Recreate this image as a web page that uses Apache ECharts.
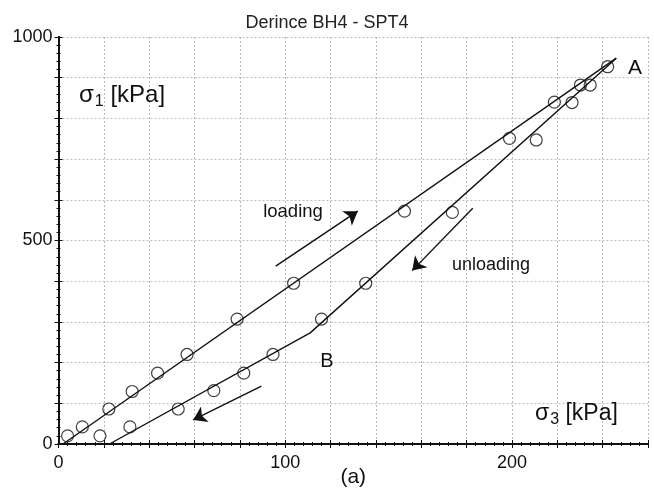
<!DOCTYPE html>
<html><head><meta charset="utf-8">
<script src="https://cdn.jsdelivr.net/npm/echarts@6/dist/echarts.min.js"></script>
<style>html,body{margin:0;padding:0;background:#fff}#c{width:654px;height:488px}</style>
</head><body><div id="c"></div><script>
// ---- data ----
const titleText = 'Derince BH4 - SPT4';
const loadingPts = [[4,20],[10.5,42],[22.2,86],[32.5,129],[43.7,174],[56.7,220],[78.8,307],[103.7,395],[152.6,572],[198.9,751],[218.7,840],[230.2,882],[242.2,927]];
const unloadingPts = [[18.3,20],[31.5,42],[52.8,86],[68.5,131],[81.7,174],[94.6,220],[116,307],[135.5,395],[173.7,569],[210.7,747],[226.5,839],[234.5,882]];
const loadingFit = [[2,0],[246,948]];
const unloadingFit = [[246,948],[111,273],[22.5,0]];
const arrowLines = [[[95.8,437],[132,572]], [[182.7,579],[156,426]], [[89.5,142],[59.4,59]]];
const xTickLabels = [0,100,200];
const yTickLabels = [0,500,1000];

const FONT = '"Liberation Sans", Arial, sans-serif';
const chart = echarts.init(document.getElementById('c'), null, {renderer:'canvas'});

function frameAxis(){
  return {
    axisLine:{show:true, lineStyle:{color:'#111', width:2}},
    axisTick:{show:true, inside:true, length:4, lineStyle:{color:'#111', width:1}},
    minorTick:{show:true, splitNumber:5, length:2, lineStyle:{color:'#111', width:1}},
    splitLine:{show:false},
    axisLabel:{show:false}
  };
}
const gridLine = {show:true, lineStyle:{color:'#bbb', width:1, type:[2,2]}};

const option = {
  animation:false,
  backgroundColor:'#fff',
  title:{text:titleText, left:'center', top:9,
    textStyle:{fontFamily:FONT, fontSize:18, fontWeight:'normal', color:'#222'}},
  grid:{left:58.5, right:6, top:37, bottom:44, containLabel:false, outerBoundsMode:'none'},
  xAxis:[
    Object.assign({type:'value', min:0, max:260, interval:20, position:'bottom',
      name:'(a)', nameLocation:'middle', nameGap:23, nameMoveOverlap:false,
      nameTextStyle:{fontFamily:FONT, fontSize:21, color:'#111'}},
      frameAxis(),
      {splitLine:gridLine,
       axisLabel:{show:true, margin:10, fontFamily:FONT, fontSize:18, color:'#111',
        formatter: v => xTickLabels.includes(v) ? String(v) : ''}}),
    Object.assign({type:'value', min:0, max:260, interval:20, position:'top'}, frameAxis())
  ],
  yAxis:[
    Object.assign({type:'value', min:0, max:1000, interval:100, position:'left'},
      frameAxis(),
      {splitLine:gridLine,
       axisLabel:{show:true, margin:6, fontFamily:FONT, fontSize:18, color:'#111',
        formatter: v => yTickLabels.includes(v) ? String(v) : ''}}),
    Object.assign({type:'value', min:0, max:1000, interval:100, position:'right'}, frameAxis())
  ],
  series:[
    {type:'line', data:loadingFit, symbol:'none', lineStyle:{color:'#111', width:1.4}, z:3},
    {type:'line', data:unloadingFit, symbol:'none', lineStyle:{color:'#111', width:1.4}, z:3},
    {type:'scatter', data:loadingPts, symbol:'circle', symbolSize:12,
      itemStyle:{color:'rgba(0,0,0,0)', borderColor:'#111', borderWidth:1.2}, z:4},
    {type:'scatter', data:unloadingPts, symbol:'circle', symbolSize:12,
      itemStyle:{color:'rgba(0,0,0,0)', borderColor:'#111', borderWidth:1.2}, z:4},
    {type:'lines', coordinateSystem:'cartesian2d', data:arrowLines.map(c => ({coords:c})),
      symbol:['none','arrow'], symbolSize:13,
      lineStyle:{color:'#111', width:1.4, opacity:1, curveness:0}, z:5}
  ],
  graphic:[
    {type:'text', left:79, top:83, z:10, style:{
      text:'{a|σ}{s|1}{a| [kPa]}', fill:'#111',
      rich:{a:{fontFamily:FONT, fontSize:24, fill:'#111'}, s:{fontFamily:FONT, fontSize:16, fill:'#111', padding:[13,0,0,1]}}}},
    {type:'text', left:535, top:402, z:10, style:{
      text:'{a|σ}{s|3}{a| [kPa]}', fill:'#111',
      rich:{a:{fontFamily:FONT, fontSize:23, fill:'#111'}, s:{fontFamily:FONT, fontSize:16, fill:'#111', padding:[13,0,0,1]}}}},
    {type:'text', x:293, y:212, z:10, style:{text:'loading', fontFamily:FONT, fontSize:18.5, fill:'#111', align:'center', verticalAlign:'middle'}},
    {type:'text', x:491, y:265, z:10, style:{text:'unloading', fontFamily:FONT, fontSize:18, fill:'#111', align:'center', verticalAlign:'middle'}},
    {type:'text', x:635, y:68, z:10, style:{text:'A', fontFamily:FONT, fontSize:21, fill:'#111', align:'center', verticalAlign:'middle'}},
    {type:'text', x:327, y:361, z:10, style:{text:'B', fontFamily:FONT, fontSize:20, fill:'#111', align:'center', verticalAlign:'middle'}}
  ]
};
chart.setOption(option);
</script></body></html>
